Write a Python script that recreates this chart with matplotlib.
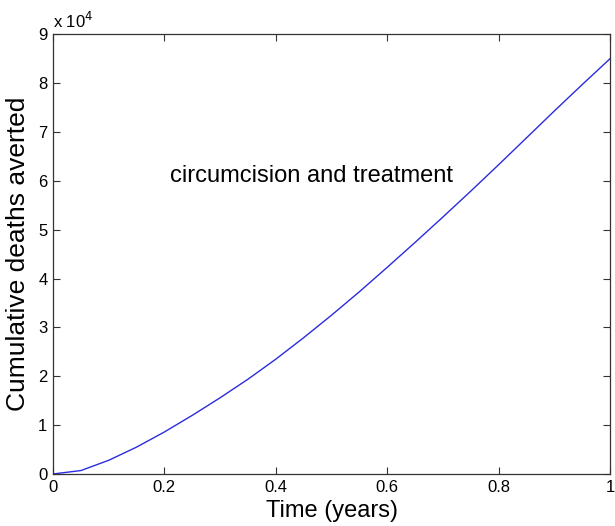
import matplotlib
matplotlib.use('Agg')
import matplotlib.pyplot as plt
from matplotlib.ticker import FuncFormatter
import numpy as np

plt.rcParams['font.family'] = ['Liberation Sans', 'DejaVu Sans']

# time in years and cumulative deaths averted
years = [0.0, 0.05, 0.1, 0.15, 0.2, 0.25, 0.3, 0.35, 0.4, 0.45, 0.5,
         0.55, 0.6, 0.65, 0.7, 0.75, 0.8, 0.85, 0.9, 0.95, 1.0]
deaths = [0, 700, 2800, 5500, 8600, 12000, 15600, 19400, 23500, 27900, 32500,
          37300, 42300, 47400, 52600, 57900, 63300, 68800, 74300, 79700, 85000]
label = 'circumcision and treatment'

fig = plt.figure(figsize=(6.15, 5.26), dpi=100)
ax = fig.add_axes([0.0862, 0.0989, 0.9058, 0.836])
ax.plot(years, deaths, color='#2b2bdf', lw=1.0)

ax.set_xlim(0, 1)
ax.set_ylim(0, 90000)
ax.set_xticks([0, 0.2, 0.4, 0.6, 0.8, 1])
ax.set_xticklabels(['0', '0.2', '0.4', '0.6', '0.8', '1'])
ax.set_yticks(np.arange(0, 90001, 10000))
ax.yaxis.set_major_formatter(FuncFormatter(lambda v, p: '%d' % round(v / 1e4)))
ax.tick_params(direction='in', top=True, right=True, length=5, width=0.8,
               labelsize=12, colors='#333333', labelcolor='black', pad=4)
for s in ax.spines.values():
    s.set_color('#333333')
    s.set_linewidth(0.9)

ax.text(0.0, 1.008, 'x 10$^4$', transform=ax.transAxes, fontsize=12,
        ha='left', va='bottom')
ax.text(0.21, 61000, label, fontsize=17, ha='left', va='center')

ax.set_xlabel('Time (years)', fontsize=17, labelpad=4)
ax.set_ylabel('Cumulative deaths averted', fontsize=19, labelpad=6)

fig.savefig('out.png', dpi=100)
